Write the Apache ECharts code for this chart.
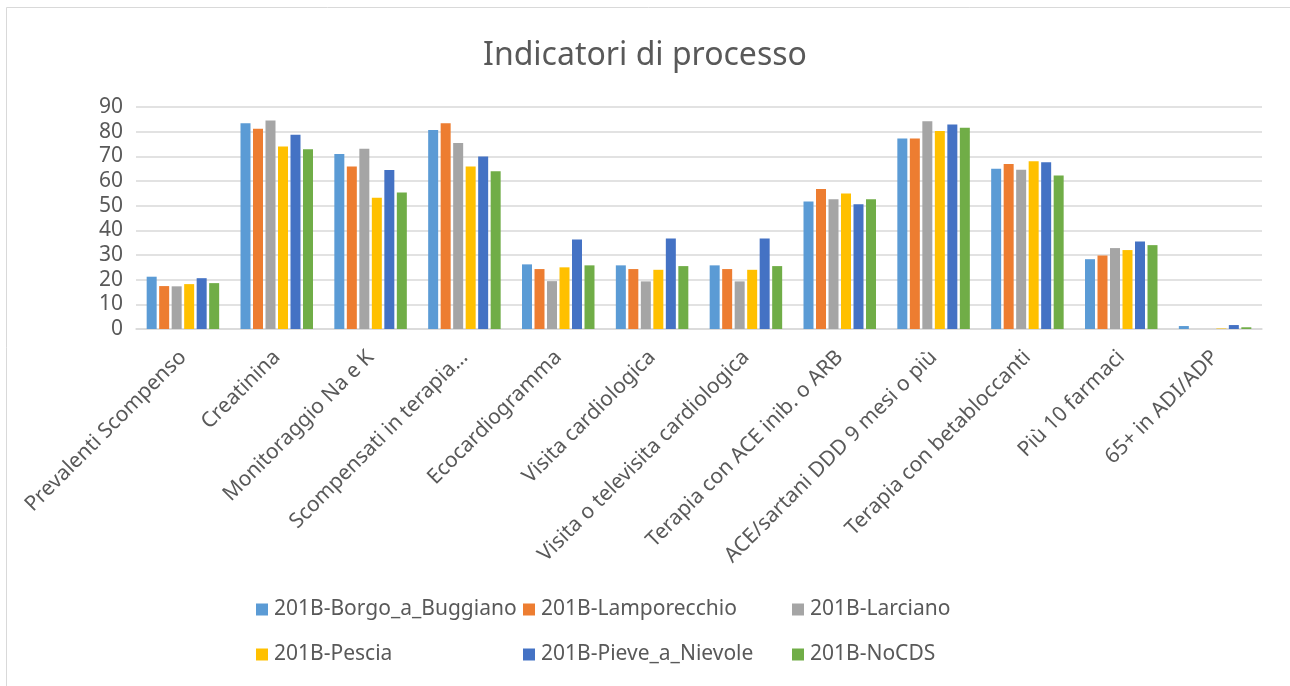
<!DOCTYPE html>
<html>
<head>
<meta charset="utf-8">
<script src="https://cdn.jsdelivr.net/npm/echarts@6/dist/echarts.min.js"></script>
<style>
html,body{margin:0;padding:0;background:#fff;}
#chart{width:1290px;height:686px;}
</style>
</head>
<body>
<div id="chart"></div>
<script>
const categories = [
  "Prevalenti Scompenso", "Creatinina", "Monitoraggio Na e K", "Scompensati in terapia…",
  "Ecocardiogramma", "Visita cardiologica", "Visita o televisita cardiologica",
  "Terapia con ACE inib. o ARB", "ACE/sartani DDD 9 mesi o più",
  "Terapia con betabloccanti", "Più 10 farmaci", "65+ in ADI/ADP"
];
const seriesNames = [
  "201B-Borgo_a_Buggiano", "201B-Lamporecchio", "201B-Larciano",
  "201B-Pescia", "201B-Pieve_a_Nievole", "201B-NoCDS"
];
const borgo      = [21.2, 83.4, 70.9, 80.7, 26.2, 25.8, 25.8, 51.7, 77.2, 65.0, 28.3, 1.2];
const lampo      = [17.4, 81.2, 65.9, 83.4, 24.3, 24.3, 24.3, 56.8, 77.2, 66.9, 29.8, 0];
const larciano   = [17.3, 84.5, 73.1, 75.4, 19.4, 19.3, 19.3, 52.6, 84.2, 64.6, 32.8, 0];
const pescia     = [18.2, 74.0, 53.2, 65.9, 25.0, 24.0, 24.0, 54.9, 80.3, 68.0, 32.0, 0.2];
const pieve      = [20.6, 78.8, 64.5, 69.9, 36.3, 36.7, 36.7, 50.6, 82.9, 67.6, 35.5, 1.6];
const nocds      = [18.6, 72.9, 55.3, 64.0, 25.8, 25.5, 25.5, 52.6, 81.6, 62.2, 34.0, 0.7];
const yTicks = [0, 10, 20, 30, 40, 50, 60, 70, 80, 90];

const values = [borgo, lampo, larciano, pescia, pieve, nocds];
const colors = ["#5B9BD5", "#ED7D31", "#A5A5A5", "#FFC000", "#4472C4", "#70AD47"];
const FONT = "Noto Sans";
const TXT = "#595959";

const legendPos = [
  {left: 256, top: 599}, {left: 523, top: 599}, {left: 792, top: 599},
  {left: 256, top: 644}, {left: 523, top: 644}, {left: 792, top: 644}
];

const chart = echarts.init(document.getElementById('chart'), null, {renderer: 'canvas'});
chart.setOption({
  animation: false,
  backgroundColor: '#fff',
  title: {
    text: 'Indicatori di processo',
    left: 'center',
    top: 35,
    textStyle: {fontFamily: FONT, fontSize: 32, fontWeight: 'normal', color: TXT}
  },
  legend: seriesNames.map((n, i) => ({
    data: [n],
    left: legendPos[i].left,
    top: legendPos[i].top,
    icon: 'rect',
    itemWidth: 12,
    itemHeight: 12,
    itemGap: 0,
    padding: 0,
    textStyle: {fontFamily: FONT, fontSize: 21, color: TXT, padding: [0, 0, 0, 1]}
  })),
  graphic: [{
    type: 'rect',
    shape: {x: 6.5, y: 7.5, width: 1300, height: 700},
    style: {fill: 'none', stroke: '#D9D9D9', lineWidth: 1},
    silent: true,
    z: 100
  }],
  grid: {left: 136, right: 28, top: 107, bottom: 357, containLabel: false},
  xAxis: {
    type: 'category',
    data: categories,
    axisLine: {lineStyle: {color: '#D9D9D9', width: 1.5}},
    axisTick: {show: false},
    axisLabel: {
      rotate: 45, interval: 0, margin: 25,
      fontFamily: FONT, fontSize: 21, color: TXT
    }
  },
  yAxis: {
    type: 'value',
    min: yTicks[0],
    max: yTicks[yTicks.length - 1],
    interval: 10,
    axisLine: {show: false},
    axisTick: {show: false},
    splitLine: {lineStyle: {color: '#D9D9D9', width: 1.5}},
    axisLabel: {margin: 13, fontFamily: FONT, fontSize: 21, color: TXT}
  },
  series: seriesNames.map((n, i) => ({
    name: n,
    type: 'bar',
    data: values[i],
    barWidth: 10,
    barGap: '25%',
    itemStyle: {color: colors[i]}
  }))
});
</script>
</body>
</html>
